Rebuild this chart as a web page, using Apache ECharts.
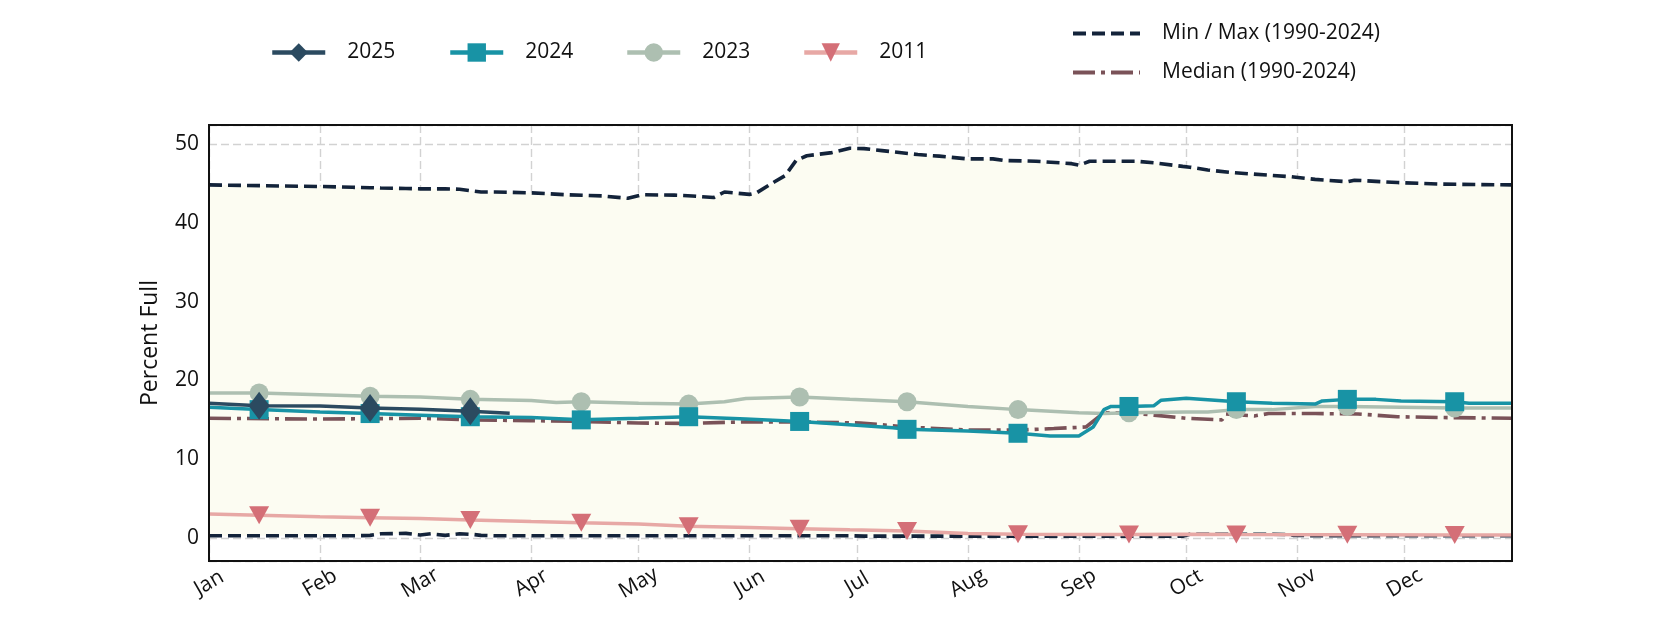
<!DOCTYPE html>
<html><head><meta charset="utf-8">
<script src="https://cdn.jsdelivr.net/npm/echarts@6/dist/echarts.min.js"></script>
<style>html,body{margin:0;padding:0;background:#fff}#c{width:1680px;height:630px}</style>
</head><body><div id="c"></div>
<script>
const FONT = '"Open Sans", sans-serif';
const monthNames = ['Jan','Feb','Mar','Apr','May','Jun','Jul','Aug','Sep','Oct','Nov','Dec'];
const monthLengths = [31,28,31,30,31,30,31,31,30,31,30,31];
const markerDays = [14,45,73,104,134,165,195,226,257,287,318,348];

// envelope (min / max 1990-2024), day-of-year index
const envDays = [0,15,31,40,45,48,55,59,62,66,70,74,76,80,90,100,110,117,121,130,135,141,144,151,153,158,161,164,167,174,179,183,188,198,204,212,219,222,231,241,243,246,259,264,272,274,279,285,297,302,303,309,318,320,332,344,364];
const maxVals = [44.8,44.7,44.6,44.5,44.45,44.4,44.35,44.3,44.3,44.3,44.25,44.0,43.9,43.9,43.8,43.55,43.4,43.1,43.55,43.5,43.4,43.2,43.9,43.6,43.8,45.2,46.0,47.9,48.5,48.9,49.45,49.4,49.15,48.65,48.45,48.1,48.1,47.9,47.8,47.5,47.3,47.8,47.8,47.6,47.15,47.05,46.7,46.4,46.0,45.85,45.8,45.5,45.2,45.4,45.1,44.9,44.8];
const minVals = [0.3,0.3,0.3,0.3,0.35,0.55,0.6,0.4,0.55,0.35,0.55,0.45,0.35,0.3,0.3,0.3,0.3,0.3,0.3,0.3,0.3,0.3,0.3,0.3,0.3,0.3,0.3,0.3,0.3,0.3,0.3,0.25,0.25,0.25,0.25,0.25,0.25,0.25,0.25,0.25,0.25,0.25,0.25,0.25,0.25,0.5,0.5,0.5,0.5,0.45,0.35,0.3,0.3,0.3,0.3,0.3,0.3];

const medianData = [[0,15.2],[31,15.1],[59,15.2],[73,15.0],[90,14.9],[104,14.8],[120,14.6],[134,14.55],[150,14.75],[165,14.75],[182,14.6],[195,14.1],[212,13.7],[226,13.7],[236,13.9],[245,14.1],[250,15.9],[257,15.9],[264,15.6],[273,15.2],[283,15.0],[284,15.75],[292,15.5],[296,15.8],[309,15.8],[321,15.75],[332,15.4],[344,15.3],[364,15.2]];
const data2011 = [[0,3.05],[14,2.9],[31,2.7],[45,2.6],[59,2.5],[73,2.3],[90,2.1],[104,1.95],[120,1.8],[134,1.5],[151,1.35],[165,1.2],[179,1.05],[195,0.9],[212,0.6],[226,0.5],[243,0.45],[257,0.45],[273,0.5],[287,0.45],[318,0.42],[348,0.4],[364,0.4]];
const data2023 = [[0,18.4],[14,18.4],[31,18.2],[45,18.0],[59,17.9],[73,17.6],[90,17.45],[97,17.2],[104,17.3],[120,17.1],[134,17.0],[144,17.3],[150,17.7],[165,17.9],[179,17.6],[195,17.3],[212,16.7],[226,16.3],[243,15.9],[250,15.8],[257,15.9],[273,16.0],[279,16.0],[287,16.3],[297,16.3],[309,16.7],[318,16.7],[333,16.6],[348,16.5],[364,16.5]];
const data2024 = [[0,16.6],[14,16.3],[31,16.0],[45,15.8],[59,15.6],[73,15.4],[90,15.3],[104,15.0],[120,15.2],[134,15.4],[150,15.1],[165,14.8],[182,14.3],[191,14.0],[195,13.8],[212,13.6],[226,13.3],[235,12.95],[243,12.95],[247,14.1],[250,16.3],[252,16.7],[257,16.7],[264,16.8],[266,17.5],[273,17.75],[287,17.3],[297,17.1],[309,17.0],[311,17.4],[318,17.6],[326,17.6],[333,17.4],[348,17.3],[352,17.1],[364,17.1]];
const data2025 = [[0,17.1],[14,16.8],[31,16.75],[45,16.5],[59,16.35],[73,16.1],[84,15.85]];

// categories: one per day
const dayCats = [];
const monthStarts = [];
monthLengths.forEach((len, m) => {
  monthStarts.push(dayCats.length);
  for (let d = 0; d < len; d++) dayCats.push(monthNames[m] + ' ' + (d + 1));
});

function withMarkers(arr) {
  return arr.map(([d, v]) => markerDays.includes(d) ? [d, v] : { value: [d, v], symbol: 'none' });
}

const gridLine = { color: '#d2d2d2', type: [8, 4], width: 1.4 };
const txt = { fontFamily: FONT, fontSize: 21, color: '#111' };
const MM = 'Min / Max (1990-2024)';
const MED = 'Median (1990-2024)';
const mmLine = { color: '#13233a', width: 3.6, type: [13, 6] };
const LW = 3.5;

const chart = echarts.init(document.getElementById('c'), null, { renderer: 'canvas' });
const legendBase = {
  orient: 'horizontal', top: 42, padding: 0, itemWidth: 53, itemHeight: 23, selectedMode: false,
  lineStyle: { width: 4.5 },
  textStyle: Object.assign({}, txt, { padding: [0, 0, 0, 17] })
};
chart.setOption({
  animation: false,
  backgroundColor: '#fff',
  textStyle: { fontFamily: FONT },
  grid: { left: 209, right: 168, top: 125, bottom: 69, show: true, z: 10,
          backgroundColor: 'transparent', borderColor: '#111', borderWidth: 2,
          containLabel: false, outerBoundsMode: 'none' },
  legend: [
    Object.assign({}, legendBase, { left: 270, data: ['2025'] }),
    Object.assign({}, legendBase, { left: 448, data: ['2024'] }),
    Object.assign({}, legendBase, { left: 625, data: ['2023'] }),
    Object.assign({}, legendBase, { left: 802, data: ['2011'] }),
    { orient: 'vertical', left: 1071, top: 23, padding: 0, itemWidth: 67, itemHeight: 22, itemGap: 18, selectedMode: false,
      lineStyle: { width: 4 },
      textStyle: Object.assign({}, txt, { padding: [0, 0, 0, 17] }),
      data: [
        { name: MM, itemStyle: { color: 'transparent', borderColor: 'transparent', borderWidth: 0 } },
        { name: MED, itemStyle: { color: 'transparent', borderColor: 'transparent', borderWidth: 0 } }
      ] }
  ],
  xAxis: {
    type: 'category', data: dayCats, boundaryGap: false,
    axisLine: { show: false }, axisTick: { show: false },
    axisLabel: Object.assign({}, txt, {
      interval: (i) => monthStarts.includes(i), rotate: 30, margin: 22,
      align: 'center', verticalAlign: 'middle',
      formatter: (v) => v.split(' ')[0]
    }),
    splitLine: { show: true, interval: (i) => monthStarts.includes(i), lineStyle: gridLine }
  },
  yAxis: {
    type: 'value', min: -2.9, max: 52.4, minInterval: 10, maxInterval: 10,
    axisLine: { show: false }, axisTick: { show: false },
    axisLabel: Object.assign({}, txt, { showMinLabel: false, showMaxLabel: false, margin: 10 }),
    splitLine: { show: true, lineStyle: gridLine },
    name: 'Percent Full', nameLocation: 'middle', nameGap: 47,
    nameTextStyle: Object.assign({}, txt, { fontSize: 23 })
  },
  series: [
    { name: MM, type: 'line', stack: 'env', z: 2, symbol: 'none',
      data: envDays.map((d, i) => [d, minVals[i]]), lineStyle: mmLine },
    { name: MM, type: 'line', stack: 'env', z: 1, symbol: 'none',
      data: envDays.map((d, i) => [d, maxVals[i] - minVals[i]]), lineStyle: mmLine,
      areaStyle: { color: '#fcfcf2', opacity: 1 } },
    { name: MED, type: 'line', z: 3, symbol: 'none', data: medianData,
      lineStyle: { color: '#7a5258', width: 3.6, type: [22, 6, 4, 6] } },
    { name: '2011', type: 'line', z: 4, symbol: 'triangle', symbolRotate: 180, symbolSize: [20, 18],
      showAllSymbol: true, data: withMarkers(data2011),
      itemStyle: { color: '#d46f77' }, lineStyle: { color: '#e7a8a5', width: LW } },
    { name: '2023', type: 'line', z: 5, symbol: 'circle', symbolSize: 19,
      showAllSymbol: true, data: withMarkers(data2023),
      itemStyle: { color: '#adbfb1' }, lineStyle: { color: '#adbfb1', width: LW } },
    { name: '2024', type: 'line', z: 6, symbol: 'rect', symbolSize: 19,
      showAllSymbol: true, data: withMarkers(data2024),
      itemStyle: { color: '#1893a5' }, lineStyle: { color: '#1893a5', width: LW } },
    { name: '2025', type: 'line', z: 7, symbol: 'diamond', symbolSize: [21, 28],
      showAllSymbol: true, data: withMarkers(data2025),
      itemStyle: { color: '#2b4a60' }, lineStyle: { color: '#2b4a60', width: LW } }
  ]
});
</script>
</body></html>
